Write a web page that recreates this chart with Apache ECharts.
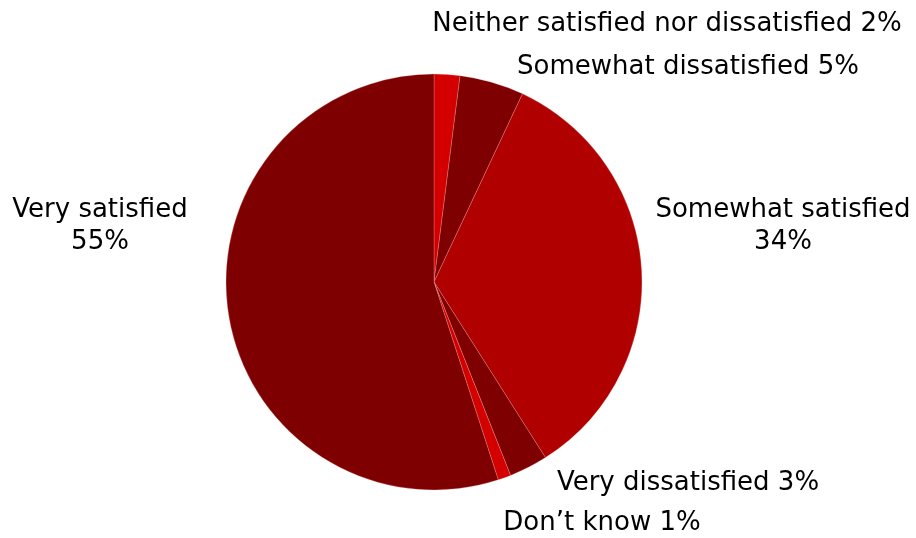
<!DOCTYPE html>
<html>
<head>
<meta charset="utf-8">
<script src="https://cdn.jsdelivr.net/npm/echarts@6/dist/echarts.min.js"></script>
<style>
  html, body { margin: 0; padding: 0; background: #fff; }
  #chart { width: 916px; height: 538px; }
</style>
</head>
<body>
<div id="chart"></div>
<script>
// Satisfaction categories, clockwise from 12 o'clock
const categories = [
  'Neither satisfied nor dissatisfied',
  'Somewhat dissatisfied',
  'Somewhat satisfied',
  'Very dissatisfied',
  'Don\u2019t know',
  'Very satisfied'
];
const shares = [2, 5, 34, 3, 1, 55];
const sliceColors = ['#D40000', '#7E0000', '#B00000', '#7E0000', '#D40000', '#7E0000'];
// Labels broken over two lines (name above, percentage below)
const twoLine = [false, false, true, false, false, true];
// Label anchor points (centre of each text block)
const labelAnchors = [
  [667, 24], [688, 67], [783, 226], [688, 483], [602, 523], [100, 226]
];

const chart = echarts.init(document.getElementById('chart'));
chart.setOption({
  animation: false,
  backgroundColor: '#ffffff',
  series: [{
    type: 'pie',
    center: [434, 282],
    radius: [0, 208],
    startAngle: 90,
    clockwise: true,
    avoidLabelOverlap: false,
    itemStyle: { borderColor: 'rgba(255,180,180,0.45)', borderWidth: 0.6 },
    label: {
      show: true,
      position: 'outside',
      color: '#000',
      fontFamily: 'DejaVu Sans, sans-serif',
      fontSize: 26,
      lineHeight: 32,
      align: 'center',
      formatter: p => twoLine[p.dataIndex] ? `${p.name}\n${p.value}%` : `${p.name} ${p.value}%`
    },
    labelLine: { show: false },
    labelLayout: p => ({
      x: labelAnchors[p.dataIndex][0],
      y: labelAnchors[p.dataIndex][1],
      align: 'center',
      verticalAlign: 'middle'
    }),
    emphasis: { disabled: true },
    data: categories.map((c, i) => ({
      name: c,
      value: shares[i],
      itemStyle: { color: sliceColors[i] }
    }))
  }]
});
</script>
</body>
</html>
